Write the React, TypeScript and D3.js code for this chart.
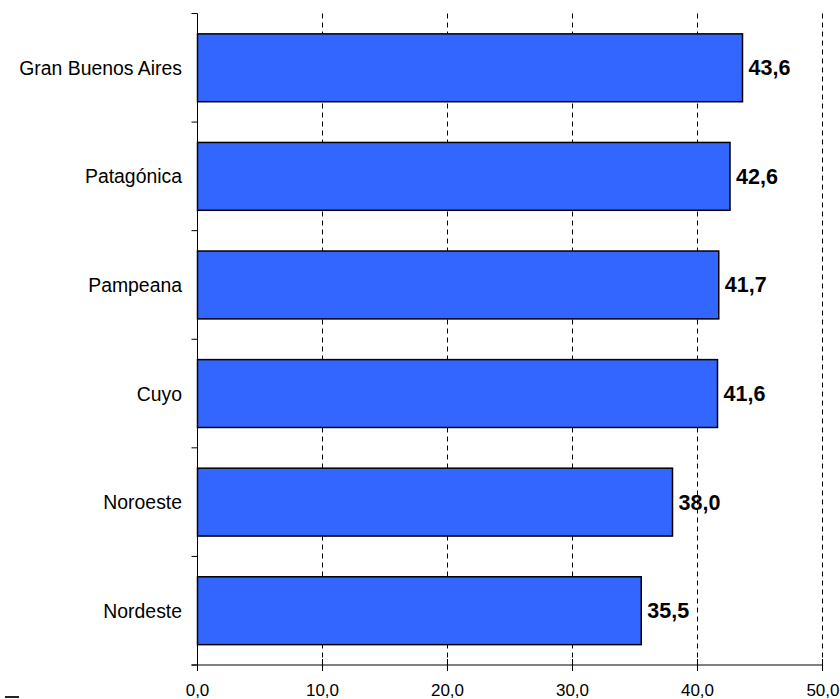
import React from "react";
import * as d3 from "d3";

const categories = ["Gran Buenos Aires", "Patagónica", "Pampeana", "Cuyo", "Noroeste", "Nordeste"];
const values = [43.6, 42.6, 41.7, 41.6, 38.0, 35.5];
const xTicks = [0, 10, 20, 30, 40, 50];

const W = 840;
const H = 699;
const left = 197.5;
const right = 822.5;
const top = 13.5;
const bottom = 665;
const fmt = (v: number) => v.toFixed(1).replace(".", ",");

export default function App() {
  const x = d3.scaleLinear().domain([0, 50]).range([left, right]);
  const y = d3.scaleBand<string>().domain(categories).range([top, bottom]).paddingInner(0).paddingOuter(0);
  const step = y.step();
  const bh = step / 1.6;
  const boundaries = d3.range(categories.length + 1).map((i) => top + i * step);
  const font = "'Liberation Sans', Arial, sans-serif";
  return (
    <div style={{ position: "absolute", left: 0, top: 0 }}>
      <svg width={W} height={H} style={{ display: "block", background: "#fff" }}>
        {xTicks.slice(1).map((t) => (
          <line key={"g" + t} x1={x(t)} x2={x(t)} y1={top} y2={bottom} stroke="#000" strokeWidth={1} strokeDasharray="5,4" />
        ))}
        {categories.map((c, i) => {
          const by = (y(c) as number) + (step - bh) / 2;
          return (
            <g key={c}>
              <rect x={x(0)} y={by} width={x(values[i]) - x(0)} height={bh} fill="#3366FF" stroke="#000" strokeWidth={1.5} />
              <text x={x(values[i]) + 6} y={by + bh / 2 + 7.5} fontFamily={font} fontWeight="bold" fontSize={21.5} fill="#000">
                {fmt(values[i])}
              </text>
              <text x={182} y={by + bh / 2 + 7} fontFamily={font} fontSize={19.4} textAnchor="end" fill="#000">
                {c}
              </text>
            </g>
          );
        })}
        <line x1={left} x2={left} y1={top} y2={bottom + 6} stroke="#000" strokeWidth={1} />
        <line x1={left - 6} x2={right} y1={bottom} y2={bottom} stroke="#000" strokeWidth={1} />
        {boundaries.map((b, i) => (
          <line key={"yt" + i} x1={left - 6} x2={left} y1={b} y2={b} stroke="#000" strokeWidth={1} />
        ))}
        {xTicks.map((t) => (
          <g key={"xt" + t}>
            <line x1={x(t)} x2={x(t)} y1={bottom - 6} y2={bottom + 6} stroke="#000" strokeWidth={1} />
            <text x={x(t)} y={696} fontFamily={font} fontSize={17} textAnchor={t === 50 ? "end" : "middle"} dx={t === 50 ? 17 : 0} fill="#000">
              {fmt(t)}
            </text>
          </g>
        ))}
        <rect x={5} y={696} width={14} height={2} fill="#222" />
      </svg>
    </div>
  );
}
